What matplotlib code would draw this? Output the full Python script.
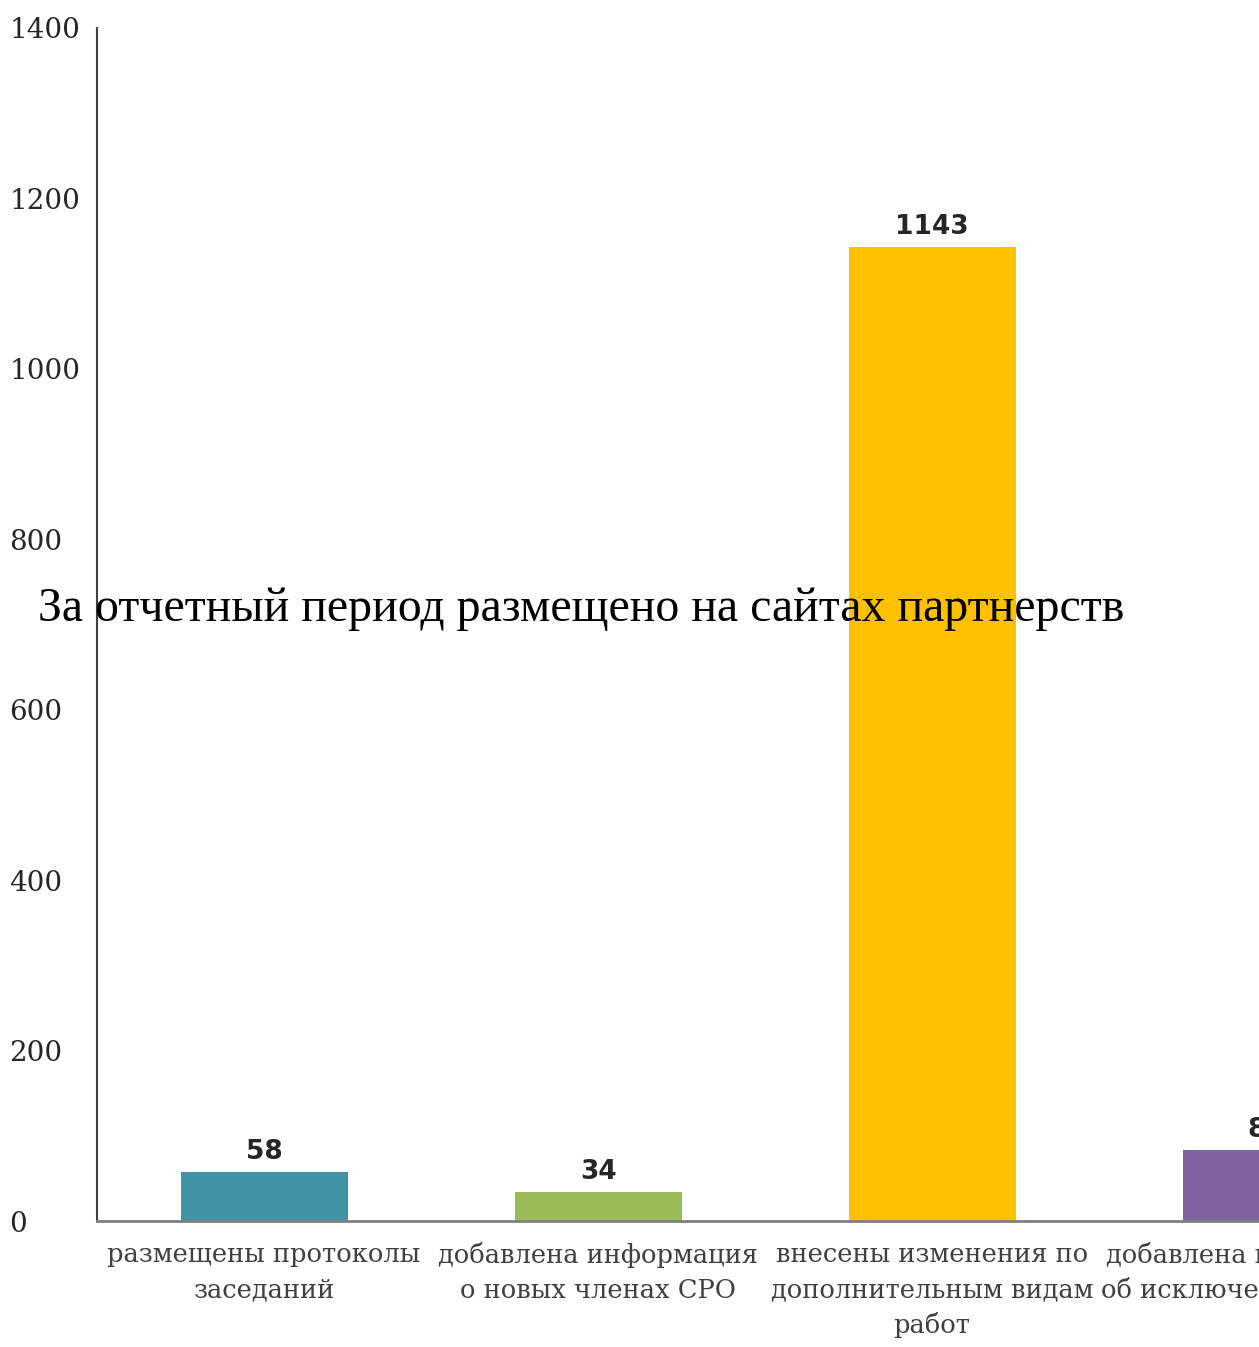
import matplotlib
matplotlib.use("Agg")
import matplotlib.pyplot as plt

# ── Data ──────────────────────────────────────────────────────────────────────
categories = [
    "размещены протоколы\nзаседаний",
    "добавлена информация\nо новых членах СРО",
    "внесены изменения по\nдополнительным видам\nработ",
    "добавлена информация\nоб исключенных членах",
]
values = [58, 34, 1143, 83]
colors = ["#4194A8", "#9BBB59", "#FFC000", "#8064A2"]
yticks = [0, 200, 400, 600, 800, 1000, 1200, 1400]
title = "За отчетный период размещено на сайтах партнерств"

# ── Plot ──────────────────────────────────────────────────────────────────────
W, H = 1259, 1347
fig = plt.figure(figsize=(W / 100, H / 100), dpi=100)
# axes run past the right edge, the last bar is cut off as in the source
ax = fig.add_axes([97 / W, 1 - 1221 / H, 1336 / W, (1221 - 28) / H])

x = range(len(values))
bars = ax.bar(x, values, width=0.5, color=colors, zorder=2)
ax.set_xlim(-0.5, len(values) - 0.5)
ax.set_ylim(0, 1400)

for b, v in zip(bars, values):
    ax.annotate(str(v), (b.get_x() + b.get_width() / 2, v),
                xytext=(0, 5), textcoords="offset points",
                ha="center", va="bottom", fontsize=19, fontweight="bold",
                family="DejaVu Sans", color="#262626")

ax.set_yticks(yticks)
ax.set_yticklabels([str(t) for t in yticks], family="DejaVu Serif",
                   fontsize=20, color="#262626", ha="left")
ax.tick_params(axis="y", length=0, pad=63)
ax.set_xticks(list(x))
ax.set_xticklabels(categories, family="DejaVu Serif", fontsize=18.5,
                   color="#404040", linespacing=1.5)
ax.tick_params(axis="x", length=0, pad=15)

for s in ("top", "right"):
    ax.spines[s].set_visible(False)
ax.spines["left"].set_color("#404040")
ax.spines["left"].set_linewidth(1.5)
ax.spines["bottom"].set_color("#808080")
ax.spines["bottom"].set_linewidth(2)

fig.text(38 / W, 1 - 609 / H, title, family="Liberation Serif",
         fontsize=34.5, color="black", ha="left", va="center", zorder=5)

fig.savefig("out.png", dpi=100)
